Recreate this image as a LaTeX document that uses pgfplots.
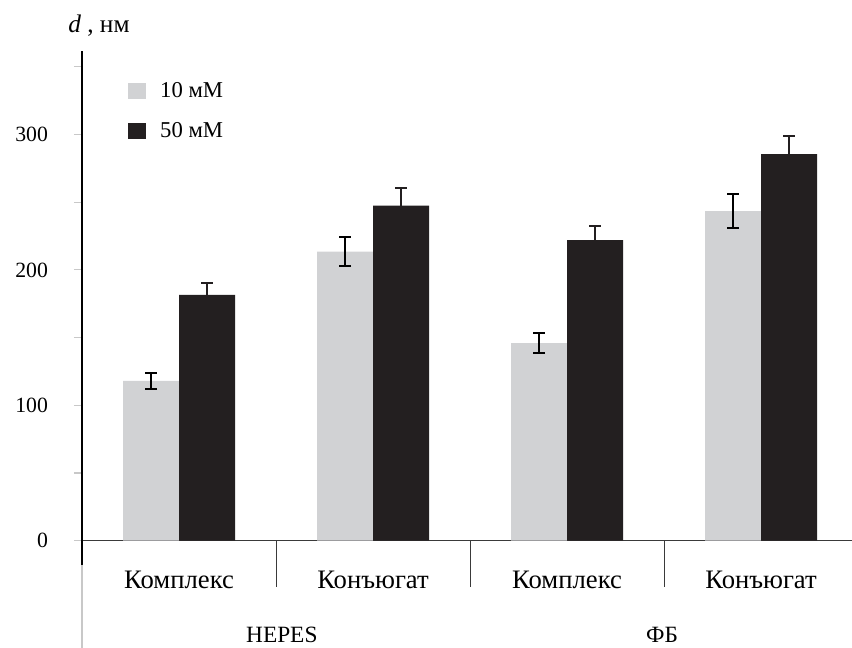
\documentclass[border=0pt]{standalone}
\usepackage{fontspec}
\setmainfont{Liberation Serif}
\usepackage{pgfplots}
\pgfplotsset{compat=1.18}

\definecolor{lightbar}{HTML}{D1D2D4}
\definecolor{darkbar}{HTML}{231F20}
\definecolor{axisgray}{HTML}{3A3A3A}
\definecolor{tickgray}{HTML}{C8C8C8}

\begin{document}
\begin{tikzpicture}
\begin{axis}[
  name=ax,
  scale only axis,
  width=577.5pt, height=367.5pt,
  xmin=-0.5, xmax=3.469,
  ymin=0, ymax=362,
  clip=false,
  axis lines=left,
  axis line style={-},
  x axis line style={axisgray, line width=1pt},
  y axis line style={black, line width=1pt},
  ybar=0pt,
  bar width=42pt,
  xtick={0,1,2,3},
  xticklabels={Комплекс,Конъюгат,Комплекс,Конъюгат},
  xtick style={draw=none},
  xticklabel style={anchor=base, yshift=-30pt, font=\fontsize{20}{24}\selectfont},
  ytick={0,50,...,350},
  yticklabels={0,,100,,200,,300,},
  ytick style={tickgray, line width=0.8pt},
  tick align=outside,
  major tick length=6pt,
  yticklabel style={font=\fontsize{16.3}{19}\selectfont, xshift=-16pt},
  /pgf/number format/assume math mode=true,
  legend style={
    at={(axis cs:-0.263,338.8)}, anchor=north west,
    draw=none, fill=none, inner sep=0pt,
    row sep=17pt,
    nodes={inner sep=0pt, anchor=west},
    font=\fontsize{17}{20}\selectfont,
    /tikz/every odd column/.append style={column sep=10.5pt},
  },
  legend image code/.code={\path[#1, draw=none] (0pt,-6pt) rectangle (13.5pt,6pt);},
]

% 10 mM
\addplot[fill=lightbar, draw=none,
  error bars/.cd, y dir=both, y explicit,
  error bar style={black, line width=1.5pt},
  error mark options={black, rotate=90, mark size=4.5pt, line width=1.5pt}]
  coordinates {
  (0,118)   +- (0,6)
  (1,213.5) +- (0,10.7)
  (2,146)   +- (0,7.5)
  (3,243.5) +- (0,12.5)
};
\addlegendentry{10 мМ}

% 50 mM
\addplot[fill=darkbar, draw=none,
  error bars/.cd, y dir=plus, y explicit,
  error bar style={darkbar, line width=1.5pt},
  error mark options={darkbar, rotate=90, mark size=4.5pt, line width=1.5pt}]
  coordinates {
  (0,181.5) +- (0,8.5)
  (1,247.5) +- (0,13)
  (2,222)   +- (0,10.5)
  (3,285.5) +- (0,13.5)
};
\addlegendentry{50 мМ}

% category separators below the axis
\draw[axisgray, line width=0.6pt] (axis cs:0.5,0) -- ([yshift=-34.5pt]axis cs:0.5,0);
\draw[axisgray, line width=0.6pt] (axis cs:1.5,0) -- ([yshift=-34.5pt]axis cs:1.5,0);
\draw[axisgray, line width=0.6pt] (axis cs:2.5,0) -- ([yshift=-34.5pt]axis cs:2.5,0);
% continuation of the value axis below zero
\draw[black, line width=1pt] (axis cs:-0.5,0) -- ([yshift=-18pt]axis cs:-0.5,0);
\draw[tickgray, line width=0.8pt] ([yshift=-18pt]axis cs:-0.5,0) -- ([yshift=-81pt]axis cs:-0.5,0);

% buffer group labels
\node[anchor=base, font=\fontsize{17.5}{21}\selectfont] at (axis cs:0.53,0) [yshift=-76.5pt] {HEPES};
\node[anchor=base, font=\fontsize{17.5}{21}\selectfont] at (axis cs:2.49,0) [yshift=-76.5pt] {ФБ};

% value axis title
\node[anchor=base west, inner sep=0pt, font=\fontsize{19}{22}\selectfont]
  at (rel axis cs:0,1) [xshift=-10.5pt, yshift=13.3pt] {\textit{d} , нм};
\end{axis}
\pgfresetboundingbox
\path[use as bounding box] (ax.south west) ++(-61.5pt,-80.5pt) rectangle ++(639pt,486pt);
\end{tikzpicture}
\end{document}
